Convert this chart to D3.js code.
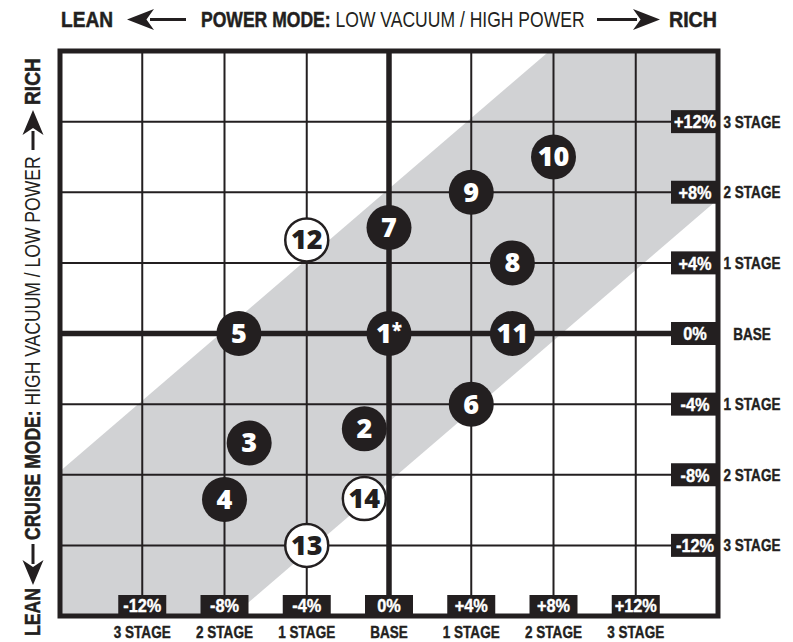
<!DOCTYPE html>
<html>
<head>
<meta charset="utf-8">
<script src="https://cdn.jsdelivr.net/npm/d3@7"></script>
<style>
  body { margin: 0; background: #fff; }
  svg { display: block; }
</style>
</head>
<body>
<svg id="chart" width="793" height="642"></svg>
<script>
// fuel map test runs: power mode (x) vs cruise mode (y), in % from base
const runLabels = ['1*', '2', '3', '4', '5', '6', '7', '8', '9', '10', '11', '12', '13', '14']
const powerPct = [0, -1.2, -6.8, -8, -7.3, 4, 0, 6, 4, 8, 6, -4, -4, -1.2]
const cruisePct = [0, -5.4, -6.2, -9.4, 0, -4, 6, 4, 8, 10, 0, 5.3, -12, -9.35]
const openRun = [false, false, false, false, false, false, false, false, false, false, false, true, true, true]

const tickValues = [-12, -8, -4, 0, 4, 8, 12]
const tickPct = ['-12%', '-8%', '-4%', '0%', '+4%', '+8%', '+12%']
const stageLabels = ['3 STAGE', '2 STAGE', '1 STAGE', 'BASE', '1 STAGE', '2 STAGE', '3 STAGE']
// band edges: cruise = power + offset
const bandUpper = 8.2
const bandLower = -8.4

const INK = '#231f20'
const BAND = '#d1d2d4'
// no condensed face installed, so squeeze Liberation Sans horizontally
const COND = '"Liberation Sans", Arial, sans-serif'
const ROUND = '"Open Sans", "Noto Sans", sans-serif'

const svg = d3.select('#chart')

const x = d3.scaleLinear().domain([-16, 16]).range([60, 718])
const y = d3.scaleLinear().domain([-16, 16]).range([616, 51])

// diagonal band around the base mixture line
const bandPts = [
  [-16, -16 + bandUpper],
  [16 - bandUpper, 16],
  [16, 16],
  [16, 16 + bandLower],
  [-16 - bandLower, -16],
  [-16, -16],
]
svg.append('path')
  .attr('d', d3.line().x((d) => x(d[0])).y((d) => y(d[1]))(bandPts) + 'Z')
  .attr('fill', BAND)

// grid
const grid = svg.append('g')
grid.selectAll('line.v')
  .data(tickValues)
  .join('line')
  .attr('class', 'v')
  .attr('x1', (d) => x(d)).attr('x2', (d) => x(d))
  .attr('y1', y(16)).attr('y2', y(-16))
  .attr('stroke', INK)
  .attr('stroke-width', (d) => (d === 0 ? 5.5 : 2))
grid.selectAll('line.h')
  .data(tickValues)
  .join('line')
  .attr('class', 'h')
  .attr('y1', (d) => y(d)).attr('y2', (d) => y(d))
  .attr('x1', x(-16)).attr('x2', x(16))
  .attr('stroke', INK)
  .attr('stroke-width', (d) => (d === 0 ? 5.5 : 2))

svg.append('rect')
  .attr('x', x(-16)).attr('y', y(16))
  .attr('width', x(16) - x(-16)).attr('height', y(-16) - y(16))
  .attr('fill', 'none')
  .attr('stroke', INK)
  .attr('stroke-width', 5)

// right-hand tags (cruise mode)
const rightTags = svg.append('g')
  .selectAll('g')
  .data(tickValues)
  .join('g')
  .attr('transform', (d) => `translate(${x(16)},${y(d)})`)
rightTags.append('rect')
  .attr('x', -47).attr('y', -11.5)
  .attr('width', 47).attr('height', 23)
  .attr('fill', INK)
rightTags.append('text')
  .attr('transform', 'translate(-23,6.8) scale(0.86,1)')
  .attr('text-anchor', 'middle')
  .attr('font-family', COND).attr('font-weight', 700).attr('font-size', 19)
  .attr('fill', '#fff').attr('stroke', '#fff').attr('stroke-width', 0.4)
  .text((d, i) => tickPct[i])
rightTags.append('text')
  .attr('transform', 'translate(34,6) scale(0.82,1)')
  .attr('text-anchor', 'middle')
  .attr('font-family', COND).attr('font-weight', 700).attr('font-size', 16.5)
  .attr('fill', INK).attr('stroke', INK).attr('stroke-width', 0.4)
  .text((d, i) => stageLabels[i])

// bottom tags (power mode)
const bottomTags = svg.append('g')
  .selectAll('g')
  .data(tickValues)
  .join('g')
  .attr('transform', (d) => `translate(${x(d)},${y(-16)})`)
bottomTags.append('rect')
  .attr('x', -24).attr('y', -21)
  .attr('width', 48).attr('height', 21)
  .attr('fill', INK)
bottomTags.append('text')
  .attr('transform', 'translate(0,-4) scale(0.86,1)')
  .attr('text-anchor', 'middle')
  .attr('font-family', COND).attr('font-weight', 700).attr('font-size', 19)
  .attr('fill', '#fff').attr('stroke', '#fff').attr('stroke-width', 0.4)
  .text((d, i) => tickPct[i])
bottomTags.append('text')
  .attr('transform', 'translate(0,22) scale(0.82,1)')
  .attr('text-anchor', 'middle')
  .attr('font-family', COND).attr('font-weight', 700).attr('font-size', 16.5)
  .attr('fill', INK).attr('stroke', INK).attr('stroke-width', 0.4)
  .text((d, i) => stageLabels[i])

// runs
const runs = runLabels.map((label, i) => ({ label, px: powerPct[i], cy: cruisePct[i], open: openRun[i] }))
const marks = svg.append('g')
  .selectAll('g')
  .data(runs)
  .join('g')
  .attr('transform', (d) => `translate(${x(d.px)},${y(d.cy)})`)
marks.append('circle')
  .attr('r', (d) => (d.open ? 21.5 : 22.5))
  .attr('fill', (d) => (d.open ? '#fff' : INK))
  .attr('stroke', INK)
  .attr('stroke-width', (d) => (d.open ? 2.5 : 0))
marks.append('text')
  .attr('text-anchor', 'middle')
  .attr('y', 9.5)
  .attr('font-family', ROUND).attr('font-weight', 800).attr('font-size', 27)
  .attr('fill', (d) => (d.open ? INK : '#fff'))
  .each(function (d) {
    const el = d3.select(this)
    const m = d.label.match(/^(\d+)(\*?)$/)
    el.append('tspan').text(m[1])
    if (m[2]) el.append('tspan').attr('font-size', 19).attr('dy', -6).text(m[2])
  })

// axis titles with arrows
function arrow(g, x0, x1, head) {
  const dir = Math.sign(x1 - x0)
  const hx = x1 - dir * head
  g.append('line')
    .attr('x1', x0).attr('x2', hx + dir * 4).attr('y1', 0).attr('y2', 0)
    .attr('stroke', INK).attr('stroke-width', 3)
  g.append('path')
    .attr('d', `M${x1},0 L${x1 - dir * head},-10.5 L${x1 - dir * head * 0.72},0 L${x1 - dir * head},10.5 Z`)
    .attr('fill', INK)
}

// squeeze each title run to the width it takes in the reference
function title(g, x0, len, parts) {
  const t = g.append('text')
    .attr('font-family', COND).attr('font-size', 21.5)
    .attr('fill', INK).attr('stroke', INK)
  parts.forEach(([str, bold]) => {
    t.append('tspan')
      .attr('font-weight', bold ? 700 : 400)
      .attr('stroke-width', bold ? 0.5 : 0)
      .text(str)
  })
  const sx = len / t.node().getComputedTextLength()
  t.attr('transform', `translate(${x0},7) scale(${sx},1)`)
}

const topG = svg.append('g').attr('transform', 'translate(0,19.5)')
title(topG, 61, 52, [['LEAN', true]])
arrow(topG, 186, 127, 27)
title(topG, 201, 384, [['POWER MODE:', true], [' LOW VACUUM / HIGH POWER', false]])
arrow(topG, 597, 660, 27)
title(topG, 669, 48, [['RICH', true]])

// left title, rotated: local x runs upward on the page
const leftG = svg.append('g').attr('transform', 'translate(33,0) rotate(-90)')
title(leftG, -636, 48, [['LEAN', true]])
arrow(leftG, -544, -585, 25)
title(leftG, -540, 384, [['CRUISE MODE:', true], [' HIGH VACUUM / LOW POWER', false]])
arrow(leftG, -150, -110, 25)
title(leftG, -105, 47, [['RICH', true]])
</script>
</body>
</html>
